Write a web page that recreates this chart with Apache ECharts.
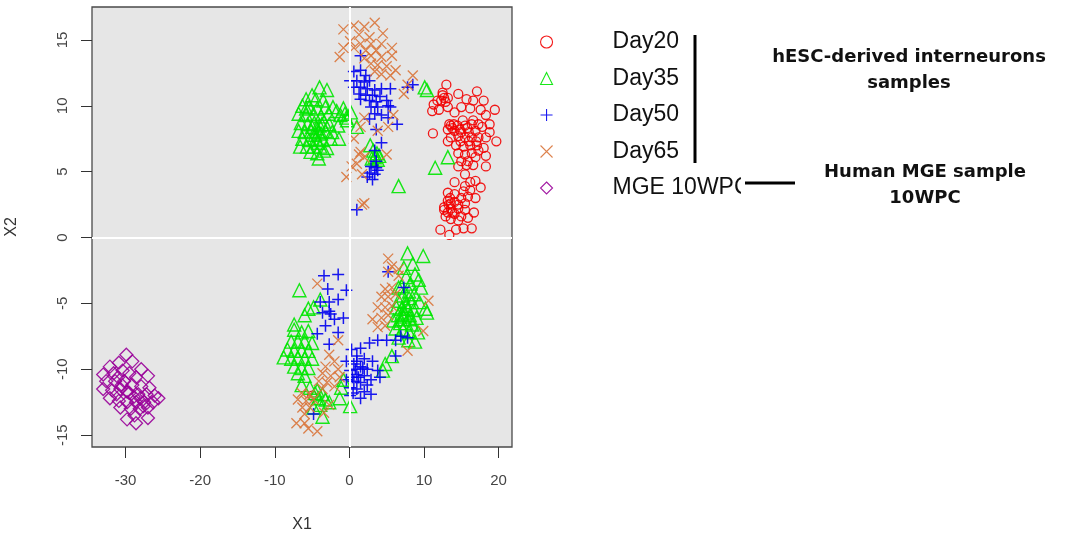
<!DOCTYPE html>
<html>
<head>
<meta charset="utf-8">
<script src="https://cdn.jsdelivr.net/npm/echarts@6/dist/echarts.min.js"></script>
<style>
  html, body { margin: 0; padding: 0; background: #ffffff; }
  #chart { width: 1079px; height: 538px; }
</style>
</head>
<body>
<div id="chart"></div>
<script>
// t-SNE coordinates (X1, X2) per sample group
const day20 = [
  [13.0,11.6],[12.5,11.0],[12.7,10.6],[12.3,10.4],[13.2,10.6],[11.8,10.4],[11.3,10.1],[11.1,9.6],[12.0,9.7],[13.2,9.9],
  [14.6,10.9],[15.7,10.5],[17.1,11.1],[16.6,10.4],[18.0,10.4],[16.2,9.8],[15.0,9.9],[14.1,9.5],[17.6,9.7],[19.5,9.7],
  [18.3,9.3],[13.6,8.5],[14.5,8.5],[15.5,8.5],[16.4,8.6],[17.3,8.6],[13.2,8.2],[14.1,8.1],[15.0,8.0],[16.0,8.0],
  [16.9,8.1],[17.8,8.4],[18.8,8.6],[18.8,8.0],[13.6,7.6],[14.6,7.7],[15.5,7.6],[16.4,7.6],[17.3,7.6],[18.3,7.6],
  [19.7,7.3],[11.2,7.9],[13.2,7.3],[14.3,7.0],[15.3,6.9],[16.2,7.0],[17.1,7.0],[18.0,6.8],[14.6,6.4],[15.5,6.3],
  [16.4,6.4],[17.3,6.6],[18.3,6.2],[15.0,5.8],[15.9,5.8],[16.9,6.1],[14.6,5.4],[15.7,5.5],[16.6,5.5],[18.3,5.4],
  [15.5,4.8],[16.2,4.2],[15.5,3.9],[16.9,4.3],[14.1,4.2],[15.3,3.5],[16.2,3.6],[17.6,3.8],[13.2,3.4],[14.1,3.3],
  [15.0,3.0],[15.9,3.1],[16.9,3.0],[13.6,2.6],[14.6,2.5],[15.5,2.6],[12.7,2.3],[13.6,2.2],[14.6,2.2],[15.5,2.1],
  [16.7,1.9],[13.2,1.9],[14.1,1.8],[15.0,1.6],[15.9,1.5],[13.6,1.4],[14.6,1.3],[15.3,0.7],[14.3,0.6],[13.4,0.2],
  [12.2,0.6],[16.4,0.7],[12.7,2.1],[13.2,2.8],[12.5,10.8],[12.9,10.3],[13.4,8.6],[13.8,8.3],[14.0,8.6],[14.8,8.2],
  [15.2,8.9],[15.8,8.3],[16.6,8.9],[17.0,7.3],[16.0,7.3],[14.9,7.3],[13.3,2.5],[13.8,1.9],[12.9,1.6],[14.1,2.7],
  [13.5,3.0],[-5.0,-12.0]
];
const day35 = [
  [-4.0,11.4],[-3.0,11.2],[-5.0,10.8],[-4.5,10.5],[-3.5,10.4],[-5.8,10.5],[-6.3,10.0],[-5.4,9.9],[-4.3,9.8],[-3.2,9.9],
  [-2.2,9.9],[-6.8,9.4],[-5.8,9.3],[-4.8,9.4],[-3.8,9.2],[-2.8,9.4],[-1.7,9.6],[-0.8,9.8],[-1.2,9.3],[-6.5,8.7],
  [-5.6,8.6],[-4.7,8.7],[-3.7,8.6],[-2.7,8.6],[-1.5,8.5],[-6.8,8.1],[-6.0,8.0],[-5.1,8.1],[-4.1,8.0],[-3.2,8.1],
  [-2.3,8.0],[-6.3,7.5],[-5.4,7.4],[-4.5,7.5],[-3.6,7.4],[-2.5,7.5],[-1.4,7.5],[-6.6,6.9],[-5.7,6.9],[-4.8,6.9],
  [-3.9,6.9],[-3.0,6.8],[-5.2,6.5],[-4.3,6.4],[-3.4,6.6],[-4.1,6.0],[-4.4,8.3],[-4.0,8.5],[-3.8,7.9],[-4.6,7.8],
  [-5.0,8.4],[-3.4,8.8],[-4.2,7.2],[-5.8,9.8],[-0.3,8.9],[0.2,9.5],[-0.6,9.4],[-0.4,9.1],[1.0,8.4],
  [2.8,7.0],[3.2,6.6],[3.7,6.4],[4.0,6.2],[3.4,6.1],[3.0,6.0],[3.8,5.9],
  [10.1,11.4],[10.4,11.2],[11.5,5.3],[13.2,6.1],[6.6,3.9],
  [7.8,-1.2],[9.9,-1.4],[8.5,-2.0],[7.3,-2.3],[8.8,-2.8],[7.6,-3.0],[9.3,-3.2],[8.2,-3.5],[7.0,-3.7],[9.6,-3.8],
  [8.0,-4.1],[7.2,-4.4],[8.7,-4.3],[6.6,-4.8],[7.5,-4.9],[8.4,-4.9],[9.4,-4.9],[6.3,-5.3],[7.0,-5.4],[7.8,-5.4],
  [8.6,-5.5],[10.2,-5.4],[6.5,-5.9],[7.3,-6.0],[8.1,-5.9],[9.0,-6.1],[5.9,-6.3],[6.8,-6.5],[7.6,-6.5],[8.4,-6.6],
  [6.2,-6.9],[7.2,-7.0],[8.0,-7.2],[9.2,-7.2],[6.6,-7.6],[8.8,-7.9],[7.9,-7.8],[7.0,-5.8],[7.6,-5.2],[8.2,-6.2],
  [6.9,-6.2],[7.4,-5.7],[8.0,-4.6],[6.6,-3.8],[10.4,-5.7],
  [-6.7,-4.0],[-5.5,-5.4],[-6.0,-5.9],[-3.9,-4.7],[-4.8,-5.3],[-7.4,-7.0],[-6.4,-7.2],[-5.5,-7.1],[-7.8,-7.9],[-6.9,-7.9],
  [-6.0,-7.9],[-5.0,-8.0],[-8.3,-8.5],[-7.4,-8.6],[-6.4,-8.6],[-5.5,-8.6],[-8.8,-9.1],[-7.8,-9.2],[-6.9,-9.1],[-6.0,-9.2],
  [-5.0,-9.2],[-7.4,-9.8],[-6.4,-9.9],[-5.5,-9.9],[-6.9,-10.3],[-6.0,-10.5],[-6.4,-11.2],[-5.3,-11.4],[-4.6,-11.8],[-3.6,-11.9],
  [-4.1,-12.2],[-3.2,-12.3],[-3.9,-12.7],[-2.7,-12.5],[-3.6,-13.6],[-4.8,-12.9],[-4.3,-11.6],[-7.4,-6.6],
  [-1.1,-11.4],[-1.3,-12.2],[0.1,-12.8],[4.5,-10.1],[4.8,-9.6],[5.7,-9.0],[-0.8,-10.8]
];
const day50 = [
  [1.5,13.8],[0.6,12.6],[1.5,12.7],[2.2,12.3],[0.1,11.9],[1.0,11.9],[2.0,11.8],[2.7,11.9],[0.6,11.4],[1.5,11.4],
  [2.4,11.3],[3.4,11.2],[4.3,11.3],[5.5,11.3],[1.3,10.9],[2.2,10.8],[3.1,10.8],[4.1,10.7],[1.5,10.5],[2.7,10.4],
  [3.6,10.3],[5.0,10.4],[2.9,9.9],[3.8,9.9],[5.2,10.0],[5.5,9.9],[3.4,9.4],[4.3,9.3],[5.2,9.1],[2.7,9.0],
  [6.4,8.6],[3.6,8.2],[4.3,7.2],[3.4,6.6],[8.5,11.6],[7.8,11.4],
  [2.9,5.4],[3.6,5.3],[2.7,4.9],[3.4,4.8],[3.8,5.1],[3.1,4.4],[2.4,4.6],[3.6,5.8],[1.0,2.1],
  [-3.4,-2.9],[-1.5,-2.8],[-2.9,-3.9],[-0.4,-4.0],[-3.9,-4.9],[-2.7,-4.9],[-1.5,-4.7],[-3.6,-5.7],[-2.5,-5.8],[-0.8,-6.1],
  [-2.0,-6.2],[-3.2,-6.7],[-4.3,-7.3],[-1.5,-7.2],[-2.7,-8.1],[-2.7,-5.6],
  [0.3,-8.5],[1.5,-8.4],[2.7,-8.0],[3.8,-7.8],[5.0,-7.8],[6.2,-7.8],[6.9,-7.5],[7.8,-7.6],[6.2,-9.0],[1.0,-9.0],
  [2.0,-9.2],[3.1,-9.4],[-0.4,-9.4],[0.6,-9.6],[1.5,-9.8],[2.4,-10.0],[3.8,-10.1],[0.1,-10.1],[1.0,-10.4],[2.0,-10.5],
  [-0.4,-10.8],[0.6,-10.9],[1.5,-11.0],[2.9,-10.8],[4.1,-10.6],[0.1,-11.4],[1.0,-11.5],[2.0,-11.7],[2.9,-11.9],[0.1,-12.0],
  [1.5,-12.2],[7.3,-3.8],[5.2,-2.6],[-4.8,-13.4],[0.8,-10.0],[1.2,-10.6],[1.8,-9.9],[0.4,-10.6],[2.4,-11.2],[1.0,-9.4],
  [0.5,-11.8]
];
const day65 = [
  [-0.8,15.8],[0.6,16.1],[2.0,16.0],[3.4,16.3],[4.5,15.5],[1.3,15.4],[2.7,15.2],[0.1,14.9],[1.5,14.7],[2.9,14.7],
  [4.3,14.7],[-0.8,14.4],[0.6,14.4],[2.2,14.2],[3.6,14.2],[5.7,14.4],[2.9,13.8],[-1.3,13.7],[2.0,13.6],[4.3,13.7],
  [5.7,13.8],[2.9,13.2],[3.8,13.1],[5.0,13.0],[6.2,12.7],[3.4,12.6],[4.3,12.4],[5.5,12.3],[8.5,12.3],[7.8,11.6],
  [7.3,10.9],[1.5,8.4],[3.8,8.1],[5.2,8.4],[2.0,9.1],[5.9,9.3],[0.6,7.5],[1.5,6.5],[2.0,6.1],[1.0,5.6],
  [0.3,5.4],[1.3,6.3],[-0.4,4.6],[1.7,4.8],[5.0,6.3],[2.0,2.6],[1.7,2.5],
  [5.2,-2.6],[6.6,-2.9],[4.8,-3.9],[5.7,-3.8],[4.3,-4.5],[5.2,-4.5],[6.2,-4.3],[3.8,-5.3],[4.8,-5.3],[5.7,-5.2],
  [3.1,-6.2],[4.3,-6.1],[5.2,-5.9],[3.8,-6.8],[4.8,-6.7],[10.6,-4.8],[9.9,-7.1],[7.8,-8.6],[6.6,-2.4],[5.7,-2.2],
  [5.2,-1.6],
  [-4.3,-3.5],[-1.5,-7.8],[-2.7,-8.9],[-2.0,-9.4],[-3.2,-9.8],[-1.5,-10.0],[-3.6,-10.3],[-2.5,-10.5],[-1.3,-10.6],[-4.1,-10.9],
  [-3.0,-11.0],[-2.0,-11.3],[-6.4,-11.8],[-5.3,-11.9],[-6.9,-12.3],[-5.8,-12.4],[-4.8,-12.3],[-6.3,-12.9],[-5.3,-12.9],[-2.7,-12.7],
  [-3.4,-13.3],[-7.1,-14.1],[-6.0,-14.1],[-5.5,-14.5],[-4.3,-14.7],[-6.0,-13.4],[-3.6,-11.5]
];
const mge10wpc = [
  [-29.9,-8.9],[-32.1,-9.8],[-30.9,-9.5],[-29.1,-9.4],[-27.9,-10.0],[-27.0,-10.5],[-33.0,-10.4],[-31.6,-10.3],[-30.4,-10.1],[-29.5,-10.3],
  [-28.6,-10.6],[-32.6,-10.9],[-31.4,-10.9],[-30.2,-10.9],[-29.1,-11.2],[-27.9,-11.3],[-26.8,-11.4],[-33.0,-11.5],[-31.8,-11.6],[-30.7,-11.5],
  [-29.5,-11.8],[-28.3,-11.9],[-27.2,-11.9],[-26.1,-12.0],[-32.1,-12.2],[-30.9,-12.4],[-29.8,-12.5],[-28.6,-12.5],[-27.5,-12.5],[-26.3,-12.5],
  [-25.6,-12.2],[-30.7,-12.9],[-29.3,-13.0],[-28.1,-13.0],[-27.0,-12.9],[-29.8,-13.8],[-28.6,-14.1],[-27.0,-13.7],[-28.8,-13.5],
  [-31.0,-10.6],[-30.5,-11.2],[-31.2,-11.9],[-29.8,-11.7],[-28.0,-12.2],[-27.6,-12.8],[-28.9,-12.1]
];

const groupNames = ['Day20', 'Day35', 'Day50', 'Day65', 'MGE 10WPC'];
const xTicks = [-30, -20, -10, 0, 10, 20];
const yTicks = [-15, -10, -5, 0, 5, 10, 15];

const chart = echarts.init(document.getElementById('chart'), null, { renderer: 'canvas' });

function hollow(name, data, symbol, size, color, width) {
  return {
    name: name,
    type: 'scatter',
    data: data,
    symbol: symbol,
    symbolSize: size,
    z: 3,
    itemStyle: { color: 'rgba(0,0,0,0)', borderColor: color, borderWidth: width, opacity: 0.9 },
    emphasis: { disabled: true }
  };
}

const axisText = { color: '#444', fontFamily: 'Liberation Sans, Arial, sans-serif', fontSize: 15 };

chart.setOption({
  animation: false,
  backgroundColor: '#ffffff',
  grid: {
    left: 92, top: 7, width: 420, height: 445,
    show: true, backgroundColor: '#e6e6e6', borderColor: '#4a4a4a', borderWidth: 1.3
  },
  xAxis: {
    type: 'value', min: -34.5, max: 21.8, position: 'bottom',
    name: 'X1', nameLocation: 'middle', nameGap: 70,
    nameTextStyle: { color: '#333', fontFamily: 'Liberation Sans, Arial, sans-serif', fontSize: 16 },
    axisLine: { show: false, onZero: false },
    axisTick: { show: true, length: 11, customValues: xTicks, lineStyle: { color: '#333', width: 1 } },
    axisLabel: Object.assign({ customValues: xTicks, margin: 26 }, axisText),
    splitLine: { show: false }
  },
  yAxis: {
    type: 'value', min: -15.9, max: 17.5, position: 'left',
    name: 'X2', nameLocation: 'middle', nameGap: 72,
    nameTextStyle: { color: '#333', fontFamily: 'Liberation Sans, Arial, sans-serif', fontSize: 16 },
    axisLine: { show: false, onZero: false },
    axisTick: { show: true, length: 11, customValues: yTicks, lineStyle: { color: '#333', width: 1 } },
    axisLabel: Object.assign({ customValues: yTicks, margin: 22, rotate: 90 }, axisText),
    splitLine: { show: false }
  },
  legend: {
    orient: 'vertical', left: 540, top: 30, padding: 0,
    itemWidth: 12, itemHeight: 12, itemGap: 12.5, symbolKeepAspect: true,
    data: groupNames,
    itemStyle: { borderWidth: 1.1 },
    textStyle: {
      color: '#111', fontFamily: 'Liberation Sans, Arial, sans-serif', fontSize: 23, lineHeight: 24,
      padding: [0, 0, 0, 55]
    }
  },
  series: [
    {
      // zero reference lines inside the panel
      type: 'scatter', data: [], z: 1, silent: true,
      markLine: {
        silent: true, symbol: 'none', label: { show: false },
        lineStyle: { color: '#ffffff', width: 2, type: 'solid' },
        data: [{ xAxis: 0 }, { yAxis: 0 }]
      }
    },
    hollow('Day20', day20, 'circle', 9, '#f20000', 1.3),
    hollow('Day35', day35, 'triangle', 13, '#00e600', 1.4),
    hollow('Day50', day50, 'path://M0,5L10,5M5,0L5,10', 12, '#0000ee', 1.5),
    hollow('Day65', day65, 'path://M0,0L10,10M10,0L0,10', 10, '#d9743a', 1.3),
    hollow('MGE 10WPC', mge10wpc, 'diamond', 13, '#990099', 1.3)
  ],
  graphic: [
    // hide the overflowing end of the last legend label
    { type: 'rect', shape: { x: 741, y: 170, width: 60, height: 30 }, style: { fill: '#ffffff' }, z: 100 },
    { type: 'line', shape: { x1: 695, y1: 35, x2: 695, y2: 163 }, style: { stroke: '#000', lineWidth: 3 }, z: 101 },
    { type: 'line', shape: { x1: 745, y1: 183, x2: 795, y2: 183 }, style: { stroke: '#000', lineWidth: 3 }, z: 101 },
    {
      type: 'text', x: 909, y: 70, z: 101,
      style: {
        text: 'hESC-derived interneurons\nsamples', align: 'center', verticalAlign: 'middle',
        font: 'bold 18px "DejaVu Sans", Verdana, sans-serif', lineHeight: 26, fill: '#111'
      }
    },
    {
      type: 'text', x: 925, y: 185, z: 101,
      style: {
        text: 'Human MGE sample\n10WPC', align: 'center', verticalAlign: 'middle',
        font: 'bold 18px "DejaVu Sans", Verdana, sans-serif', lineHeight: 26, fill: '#111'
      }
    }
  ]
});
</script>
</body>
</html>
